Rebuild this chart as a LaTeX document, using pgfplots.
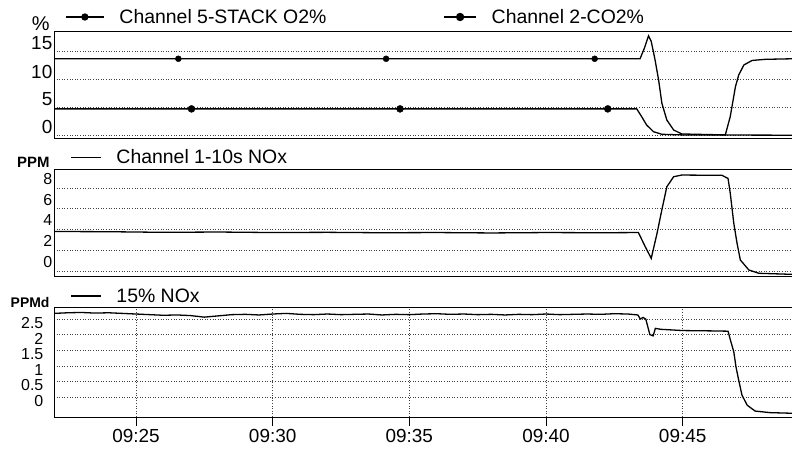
\documentclass[border=0pt]{standalone}
\usepackage{fontspec}
\setmainfont{Liberation Sans}
\usepackage{pgfplots}
\pgfplotsset{compat=1.18}

\pgfplotsset{
  panel/.style={
    scale only axis, width=738bp, anchor=south west,
    xmin=22, xmax=49,
    axis y line*=left, axis x line*=box,
    axis line style={-, black, line width=1bp},
    ymajorgrids,
    grid style={black!75, line width=0.6bp, dash pattern=on 1bp off 1.6bp},
    ytick style={draw=none},
    xtick pos=bottom,
    yticklabel style={inner sep=1.5bp},
    /pgf/number format/assume math mode=true,
    clip mode=individual,
    legend style={draw=none, fill=none, at={(rel axis cs:0,1)}, anchor=west,
      inner sep=0pt, legend columns=-1, font=\fontsize{19.5}{19.5}\selectfont,
      /tikz/every odd column/.append style={column sep=13bp}},
    legend cell align=left,
  },
  dline/.style={black, line width=1.3bp},
}

\begin{document}
\begin{tikzpicture}

% ---- panel 1: O2 / CO2 ----
\begin{axis}[panel, at={(54bp,-138bp)}, height=107bp,
  ymin=-0.45, ymax=18.66,
  ytick={0,5,10,15}, yticklabels={0,5,10,15},
  yticklabel style={font=\fontsize{19}{19}\selectfont, yshift=8bp},
  xtick=\empty,
  legend style={xshift=11bp, yshift=14bp,
    /tikz/every even column/.append style={column sep=115bp}},
]
\addplot[dline, legend image code/.code={\draw[black,line width=1.3bp] (0bp,0bp) -- (38bp,0bp); \fill[black] (19bp,0bp) circle (3bp);}]
  coordinates {(22,13.7) (26.55,13.7) (34.15,13.7) (41.78,13.7) (43.44,13.7) (43.6,15.6) (43.75,17.8) (43.85,16.8) (43.99,13.5) (44.12,9.9) (44.24,5.75) (44.42,2.77) (44.67,0.98) (44.97,0.27) (46.56,0.1) (46.74,3.36) (46.93,8.7) (47.05,10.8) (47.24,12.6) (47.54,13.4) (48.02,13.6) (49,13.7)};
\addplot[only marks, mark=*, mark size=3bp, black, forget plot]
  coordinates {(26.55,13.7) (34.15,13.7) (41.78,13.7)};
\addplot[dline, legend image code/.code={\draw[black,line width=1.3bp] (0bp,0bp) -- (32bp,0bp); \fill[black] (16bp,0bp) circle (3.5bp);}]
  coordinates {(22,4.75) (43.32,4.75) (43.5,3.36) (43.68,1.88) (43.93,0.68) (44.24,0.21) (45,0.1) (49,0.05)};
\addplot[only marks, mark=*, mark size=3.5bp, black, forget plot]
  coordinates {(27.03,4.75) (34.66,4.75) (42.26,4.75)};
\legend{Channel 5-STACK O2\%, Channel 2-CO2\%}
\node[anchor=base east, font=\fontsize{20}{20}\selectfont, xshift=-1bp, yshift=1bp] at (rel axis cs:0,1) {\%};
\end{axis}

% ---- panel 2: NOx ----
\begin{axis}[panel, at={(54bp,-276bp)}, height=107bp,
  ymin=-0.48, ymax=9.81,
  ytick={0,2,4,6,8}, yticklabels={0,2,4,6,8},
  yticklabel style={font=\fontsize{16}{16}\selectfont, yshift=9bp},
  xtick=\empty,
  legend style={xshift=16bp, yshift=11.5bp},
]
\addplot[dline, legend image code/.code={\draw[black,line width=1.3bp] (0bp,0bp) -- (30bp,0bp);}]
  coordinates {(22,3.8) (24,3.78) (26,3.72) (28,3.75) (30,3.7) (32,3.72) (34,3.68) (36,3.7) (38,3.66) (40,3.7) (42,3.68) (43.38,3.7) (43.63,2.34) (43.85,1.22) (44.06,3.6) (44.24,5.9) (44.42,8.1) (44.67,9.07) (44.97,9.23) (46.44,9.2) (46.66,8.9) (46.74,7.5) (46.87,4.6) (46.99,2.66) (47.11,1.06) (47.42,0.1) (47.79,-0.22) (49,-0.32)};
\legend{Channel 1-10s NOx}
\node[anchor=base east, font=\bfseries\fontsize{15}{15}\selectfont, xshift=-1bp, yshift=2bp] at (rel axis cs:0,1) {PPM};
\end{axis}

% ---- panel 3: 15% NOx ----
\begin{axis}[panel, at={(54bp,-417bp)}, height=110bp,
  ymin=-0.64, ymax=2.885,
  ytick={0,0.5,1,1.5,2,2.5}, yticklabels={0,0.5,1,1.5,2,2.5},
  yticklabel style={font=\fontsize{16}{16}\selectfont, yshift=-4bp},
  xmajorgrids,
  xtick={25,30,35,40,45}, xticklabels={09:25,09:30,09:35,09:40,09:45},
  xtick style={black, line width=1bp}, major tick length=9bp, tick align=outside,
  xticklabel style={font=\fontsize{19}{19}\selectfont},
  legend style={xshift=16bp, yshift=11bp},
]
\addplot[dline, legend image code/.code={\draw[black,line width=1.3bp] (0bp,0bp) -- (30bp,0bp);}]
  coordinates {(22,2.68) (22.5,2.7) (23,2.71) (23.5,2.69) (24,2.7) (24.5,2.68) (25,2.66) (25.5,2.64) (26,2.62) (26.5,2.63) (27,2.61) (27.5,2.56) (28,2.6) (28.5,2.64) (29,2.65) (29.5,2.63) (30,2.66) (30.5,2.68) (31,2.65) (31.5,2.64) (32,2.66) (32.5,2.64) (33,2.65) (33.5,2.66) (34,2.63) (34.5,2.65) (35,2.64) (35.5,2.66) (36,2.67) (36.5,2.65) (37,2.66) (37.5,2.64) (38,2.65) (38.5,2.63) (39,2.65) (39.5,2.64) (40,2.66) (40.5,2.64) (41,2.65) (41.5,2.66) (42,2.65) (42.5,2.67) (43,2.66) (43.36,2.63) (43.45,2.5) (43.55,2.55) (43.65,2.5) (43.8,2.0) (43.92,1.96) (44.0,2.2) (44.2,2.17) (45,2.13) (46,2.12) (46.66,2.11) (46.73,1.88) (46.87,1.45) (46.95,0.97) (47.05,0.54) (47.17,0.06) (47.36,-0.26) (47.65,-0.45) (48.2,-0.5) (49,-0.52)};
\legend{15\% NOx}
\node[anchor=base east, font=\bfseries\fontsize{14}{14}\selectfont, xshift=-1bp, yshift=0bp] at (rel axis cs:0,1) {PPMd};
\end{axis}

\pgfresetboundingbox
\useasboundingbox (0,0) rectangle (792bp,-455bp);
\end{tikzpicture}
\end{document}
